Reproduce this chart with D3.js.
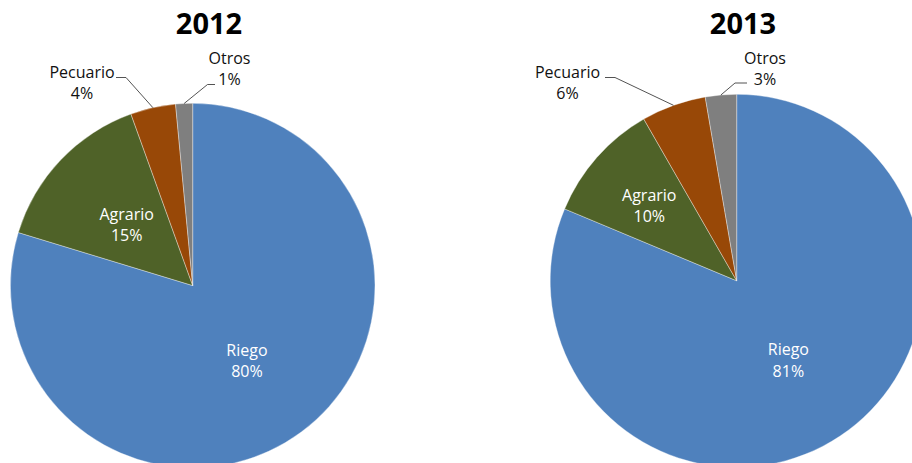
<!DOCTYPE html>
<html>
<head>
<meta charset="utf-8">
<script src="https://cdn.jsdelivr.net/npm/d3@7"></script>
<style>
  html, body { margin: 0; padding: 0; background: #fff; overflow: hidden; }
  svg { display: block; }
</style>
</head>
<body>
<svg id="chart" width="912" height="463"></svg>
<script>
// ---- data ----
const categories = ["Riego", "Agrario", "Pecuario", "Otros"];
const years = ["2012", "2013"];
const values2012 = [79.7, 14.8, 4.0, 1.5];
const values2013 = [81.3, 10.4, 5.6, 2.7];
const labels2012 = ["80%", "15%", "4%", "1%"];
const labels2013 = ["81%", "10%", "6%", "3%"];
const colors = ["#4F81BD", "#4F6228", "#984807", "#7F7F7F"];

// ---- layout (not data) ----
const pies = [
  { year: years[0], values: values2012, labels: labels2012, cx: 192.7, cy: 285.6, r: 182.3, titleX: 209,
    insideR: { 0: 0.5, 1: 0.5 },
    outside: {
      2: { x: 82, y: 72, elbow: [126, 77.5], end: [116, 77.5] },
      3: { x: 229.5, y: 58, elbow: [207.5, 84.5], end: [215, 84.5] }
    } },
  { year: years[1], values: values2013, labels: labels2013, cx: 736.7, cy: 280.8, r: 186.5, titleX: 743,
    insideR: { 0: 0.5, 1: 0.625 },
    outside: {
      2: { x: 567.5, y: 72, elbow: [615, 77.5], end: [605, 77.5] },
      3: { x: 765, y: 58.5, elbow: [735, 83], end: [747, 83] }
    } }
];

const svg = d3.select("#chart");
const FONT = "'Open Sans', 'DejaVu Sans', sans-serif";

pies.forEach(p => {
  const g = svg.append("g").attr("transform", `translate(${p.cx},${p.cy})`);
  const pie = d3.pie().sort(null).value(d => d.v);
  const data = pie(categories.map((c, i) => ({ c, v: p.values[i], lab: p.labels[i], i })));
  const arc = d3.arc().innerRadius(0).outerRadius(p.r);

  g.selectAll("path.slice").data(data).enter().append("path")
    .attr("class", "slice")
    .attr("d", arc)
    .attr("fill", d => colors[d.data.i])
    .attr("stroke", "#ffffff")
    .attr("stroke-width", 0.6)
    .attr("stroke-opacity", 0.6);

  // inside labels
  const inside = data.filter(d => !(d.data.i in p.outside));
  inside.forEach(d => {
    const rr = p.r * p.insideR[d.data.i];
    const mid = (d.startAngle + d.endAngle) / 2;
    const x = rr * Math.sin(mid), y = -rr * Math.cos(mid);
    const t = g.append("text")
      .attr("x", x).attr("y", y)
      .attr("text-anchor", "middle")
      .attr("fill", "#ffffff")
      .style("font-family", FONT)
      .style("font-size", "16px");
    t.append("tspan").attr("x", x).attr("dy", "-0.2em").text(d.data.c);
    t.append("tspan").attr("x", x).attr("dy", "1.35em").text(d.data.lab);
  });

  // outside labels with leader lines
  data.filter(d => d.data.i in p.outside).forEach(d => {
    const o = p.outside[d.data.i];
    const mid = (d.startAngle + d.endAngle) / 2;
    const ex = p.cx + p.r * Math.sin(mid);
    const ey = p.cy - p.r * Math.cos(mid);
    svg.append("polyline")
      .attr("points", [[ex, ey], o.elbow, o.end].map(q => q.join(",")).join(" "))
      .attr("fill", "none")
      .attr("stroke", "#404040")
      .attr("stroke-width", 0.9);
    const t = svg.append("text")
      .attr("text-anchor", "middle")
      .attr("fill", "#111111")
      .style("font-family", FONT)
      .style("font-size", "16px");
    t.append("tspan").attr("x", o.x).attr("y", o.y + 5.5).text(d.data.c);
    t.append("tspan").attr("x", o.x).attr("y", o.y + 26.5).text(d.data.lab);
  });

  // title
  svg.append("text")
    .attr("x", p.titleX).attr("y", 34)
    .attr("text-anchor", "middle")
    .attr("fill", "#000")
    .style("font-family", FONT)
    .style("font-weight", "bold")
    .style("font-size", "29px")
    .text(p.year);
});
</script>
</body>
</html>
